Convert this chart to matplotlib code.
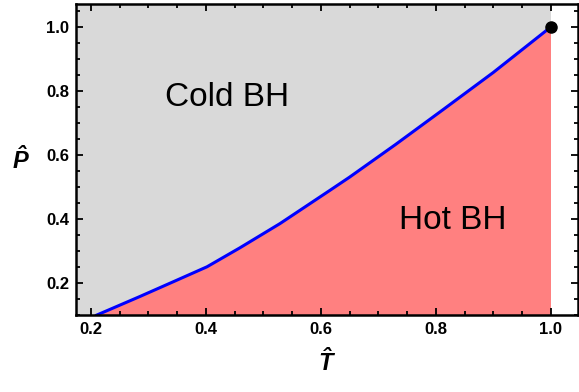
import numpy as np
import matplotlib.pyplot as plt
from matplotlib.ticker import MultipleLocator

plt.rcParams['font.family'] = ['Liberation Sans', 'DejaVu Sans']
plt.rcParams['mathtext.fontset'] = 'custom'
plt.rcParams['mathtext.bf'] = 'Liberation Sans:bold:italic'
plt.rcParams['mathtext.rm'] = 'Liberation Sans'

# coexistence line
T_line = [0.21, 0.285, 0.343, 0.402, 0.459, 0.529, 0.616, 0.65, 0.73, 0.812, 0.90, 1.0]
P_line = [0.10, 0.158, 0.204, 0.251, 0.310, 0.386, 0.490, 0.531, 0.633, 0.741, 0.858, 1.0]
crit_T, crit_P = 1.0, 1.0

labels = ['Cold BH', 'Hot BH']
label_pos = [(0.437, 0.78), (0.83, 0.395)]

fig = plt.figure(figsize=(5.79, 3.92), dpi=100)
ax = fig.add_axes([0.131, 0.196, 0.867, 0.794])
ax.set_facecolor('#d9d9d9')

ax.set_xlim(0.174, 1.047)
ax.set_ylim(0.1, 1.072)

ax.fill_between(T_line, P_line, 0.1, color='#ff8080', lw=0, zorder=1)
ax.axvspan(crit_T, 1.1, color='white', lw=0, zorder=1)
ax.plot(T_line, P_line, color='#0000ff', lw=2.2, zorder=3)
ax.plot([crit_T], [crit_P], 'o', color='black', ms=8, zorder=4, clip_on=False)

for txt, (x, y) in zip(labels, label_pos):
    ax.text(x, y, txt, fontsize=24, ha='center', va='center', zorder=5)

ax.xaxis.set_major_locator(MultipleLocator(0.2))
ax.xaxis.set_minor_locator(MultipleLocator(0.05))
ax.yaxis.set_major_locator(MultipleLocator(0.2))
ax.yaxis.set_minor_locator(MultipleLocator(0.05))
ax.tick_params(which='both', direction='in', top=True, right=True, width=1.3, zorder=6)
ax.tick_params(which='major', length=5, labelsize=12, pad=5)
ax.tick_params(which='minor', length=3)
for lab in ax.get_xticklabels() + ax.get_yticklabels():
    lab.set_fontweight('bold')
ax.xaxis.set_major_formatter(plt.FuncFormatter(lambda v, p: f'{v:.1f}'))
ax.yaxis.set_major_formatter(plt.FuncFormatter(lambda v, p: f'{v:.1f}'))
for s in ax.spines.values():
    s.set_linewidth(1.8)
    s.set_zorder(7)

ax.set_xlabel(r'$\mathbf{\hat{T}}$', fontsize=17, labelpad=8)
ax.set_ylabel(r'$\mathbf{\hat{P}}$', fontsize=17, rotation=0, labelpad=18, va='center')

fig.savefig('out.png', dpi=100)
